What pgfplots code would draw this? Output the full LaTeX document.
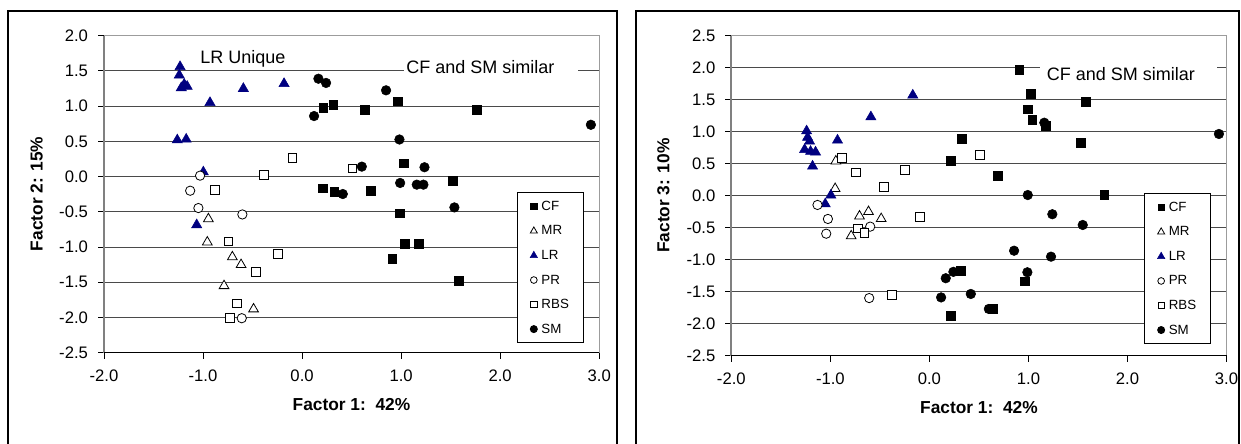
\documentclass[border=0pt]{standalone}
\usepackage{fontspec}
\setmainfont{Liberation Sans}
\usepackage{pgfplots}
\pgfplotsset{compat=1.18}
\definecolor{lrblue}{HTML}{000080}
\definecolor{gridc}{HTML}{4A4A4A}
\definecolor{framec}{HTML}{9C9C9C}

\pgfplotsset{
  pca/.style={
    scale only axis, width=371.4pt,
    xmin=-2, xmax=3, xtick={-2,-1,0,1,2,3},
    axis line style={draw=none},
    ymajorgrids, grid style={gridc, line width=0.75pt},
    tick align=outside, xtick pos=bottom, ytick pos=left,
    major tick length=4.5pt,
    tick style={black, line width=0.75pt},
    /pgf/number format/fixed, /pgf/number format/fixed zerofill,
    /pgf/number format/precision=1, /pgf/number format/assume math mode=true,
    ticklabel style={font=\fontsize{12.5}{14}\selectfont},
    xticklabel style={yshift=-5pt},
    yticklabel style={xshift=-4pt},
    clip=false,
    legend cell align=left,
    legend image code/.code={\draw[only marks,##1] plot coordinates {(0.12cm,0cm)};},
    legend image post style={every mark/.append style={scale=0.72}},
    legend style={anchor=north west, draw=black, line width=0.75pt, fill=white,
      font=\fontsize{10}{12}\selectfont, inner xsep=9.5pt, inner ysep=4.2pt, row sep=6.4pt,
      column sep=1.5pt,
      nodes={inner sep=1.5pt, text height=7.5pt, text depth=1.5pt}},
  },
  cf/.style={only marks, mark=square*, mark size=3.3pt, black, mark options={line width=0.5pt}},
  mr/.style={only marks, mark=triangle*, mark size=4.2pt, black, mark options={fill=white, line width=0.6pt}},
  lr/.style={only marks, mark=triangle*, mark size=4.4pt, lrblue, mark options={line width=0.4pt}},
  pr/.style={only marks, mark=*, mark size=3.5pt, black, mark options={fill=white, line width=0.6pt}},
  rbs/.style={only marks, mark=square*, mark size=3.3pt, black, mark options={fill=white, line width=0.6pt}},
  sm/.style={only marks, mark=*, mark size=3.6pt, black},
}

\begin{document}
\begin{tikzpicture}
\useasboundingbox (0,0) rectangle (930.75pt,332.25pt);
% outer chart frames
\draw[black, line width=1.2pt] (6pt,-20pt) rectangle (462.75pt,324pt);
\draw[black, line width=1.2pt] (477pt,-20pt) rectangle (929.25pt,324pt);

% ---- left: factor 1 vs factor 2
\begin{axis}[pca, at={(78pt,67.7pt)}, anchor=south west, height=237.75pt,
  ymin=-2.5, ymax=2, ytick={-2.5,-2,...,2},
  legend style={at={(0.834,0.506)}}]
  \draw[gray, line width=1.5pt] (rel axis cs:0,0) -- (rel axis cs:0,1);
  \draw[framec, line width=0.9pt] (rel axis cs:0,1) -- (rel axis cs:1,1) -- (rel axis cs:1,0);
  \draw[black, line width=0.75pt] (rel axis cs:0,0) -- (rel axis cs:1,0);
  \addplot[cf] coordinates {(0.215,0.98) (0.316,1.02) (0.63,0.95) (0.963,1.07) (1.765,0.95)
    (1.03,0.19) (0.209,-0.166) (0.326,-0.22) (0.694,-0.20) (1.525,-0.057) (0.99,-0.52)
    (1.04,-0.95) (1.175,-0.95) (0.912,-1.17) (1.58,-1.48)};
  \addplot[mr] coordinates {(-0.946,-0.60) (-0.957,-0.93) (-0.704,-1.14) (-0.616,-1.25)
    (-0.788,-1.55) (-0.49,-1.88)};
  \addplot[lr] coordinates {(-1.232,1.56) (-1.24,1.44) (-1.22,1.26) (-1.19,1.31) (-1.16,1.28)
    (-0.93,1.05) (-0.593,1.25) (-0.182,1.32) (-1.26,0.52) (-1.17,0.53) (-0.997,0.065)
    (-1.064,-0.685)};
  \addplot[pr] coordinates {(-1.03,0.014) (-1.13,-0.20) (-1.047,-0.446) (-0.603,-0.537)
    (-0.609,-2.01)};
  \addplot[rbs] coordinates {(-0.879,-0.19) (-0.384,0.024) (-0.098,0.266) (-0.744,-0.92)
    (-0.245,-1.10) (-0.468,-1.35) (-0.66,-1.80) (-0.727,-2.01) (0.508,0.118)};
  \addplot[sm] coordinates {(0.165,1.39) (0.242,1.33) (0.848,1.225) (0.121,0.86) (2.916,0.736)
    (0.983,0.527) (0.603,0.142) (1.236,0.133) (0.99,-0.09) (1.158,-0.114) (1.225,-0.114)
    (0.411,-0.247) (1.538,-0.437)};
  \legend{CF,MR,LR,PR,RBS,SM}
\end{axis}

% ---- right: factor 1 vs factor 3
\begin{axis}[pca, at={(548.5pt,65.5pt)}, anchor=south west, height=240pt,
  ymin=-2.5, ymax=2.5, ytick={-2.5,-2,...,2.5},
  legend style={at={(0.834,0.5075)}}]
  \draw[gray, line width=1.5pt] (rel axis cs:0,0) -- (rel axis cs:0,1);
  \draw[framec, line width=0.9pt] (rel axis cs:0,1) -- (rel axis cs:1,1) -- (rel axis cs:1,0);
  \draw[black, line width=0.75pt] (rel axis cs:0,0) -- (rel axis cs:1,0);
  \addplot[cf] coordinates {(0.908,1.96) (1.026,1.59) (1.578,1.47) (0.993,1.35) (1.04,1.18)
    (1.175,1.09) (0.33,0.89) (1.53,0.83) (0.216,0.547) (0.693,0.308) (1.766,0.016)
    (0.317,-1.17) (0.966,-1.34) (0.64,-1.77) (0.216,-1.875)};
  \addplot[mr] coordinates {(-0.945,0.54) (-0.952,0.11) (-0.706,-0.32) (-0.615,-0.25)
    (-0.487,-0.36) (-0.79,-0.63)};
  \addplot[lr] coordinates {(-0.168,1.57) (-0.591,1.23) (-0.928,0.866) (-1.24,1.01)
    (-1.23,0.91) (-1.21,0.85) (-1.26,0.72) (-1.20,0.69) (-1.15,0.68) (-1.18,0.46)
    (-0.995,0.007) (-1.052,-0.13)};
  \addplot[pr] coordinates {(-1.13,-0.145) (-1.025,-0.364) (-1.042,-0.594) (-0.598,-0.484)
    (-0.608,-1.60)};
  \addplot[rbs] coordinates {(-0.884,0.584) (-0.74,0.365) (-0.457,0.14) (-0.245,0.40)
    (-0.094,-0.33) (-0.722,-0.51) (-0.656,-0.578) (-0.379,-1.55) (0.512,0.636)};
  \addplot[sm] coordinates {(1.16,1.14) (2.923,0.964) (0.993,0.01) (1.241,-0.29)
    (1.548,-0.458) (0.855,-0.86) (1.228,-0.953) (0.989,-1.197) (0.165,-1.29) (0.242,-1.19)
    (0.118,-1.59) (0.418,-1.536) (0.6,-1.77)};
  \legend{CF,MR,LR,PR,RBS,SM}
\end{axis}

% annotations
\node[anchor=west, inner sep=0pt, font=\fontsize{13.5}{16}\selectfont] at (150pt,288pt) {LR Unique};
\fill[white] (303pt,271pt) rectangle (433.5pt,292pt);
\node[anchor=west, inner sep=0pt, font=\fontsize{13.5}{16}\selectfont] at (304.5pt,282.2pt) {CF and SM similar};
\fill[white] (780pt,266pt) rectangle (912.5pt,286pt);
\node[anchor=west, inner sep=0pt, font=\fontsize{13.5}{16}\selectfont] at (785pt,276.5pt) {CF and SM similar};

% axis titles
\node[rotate=90, font=\bfseries\fontsize{13}{15}\selectfont] at (27.5pt,186.75pt) {Factor 2: 15\%};
\node[font=\bfseries\fontsize{13}{15}\selectfont] at (263.6pt,28.5pt) {Factor 1:\ \ 42\%};
\node[rotate=90, font=\bfseries\fontsize{13}{15}\selectfont] at (497.5pt,185.5pt) {Factor 3: 10\%};
\node[font=\bfseries\fontsize{13}{15}\selectfont] at (734.2pt,26.25pt) {Factor 1:\ \ 42\%};
\end{tikzpicture}
\end{document}
